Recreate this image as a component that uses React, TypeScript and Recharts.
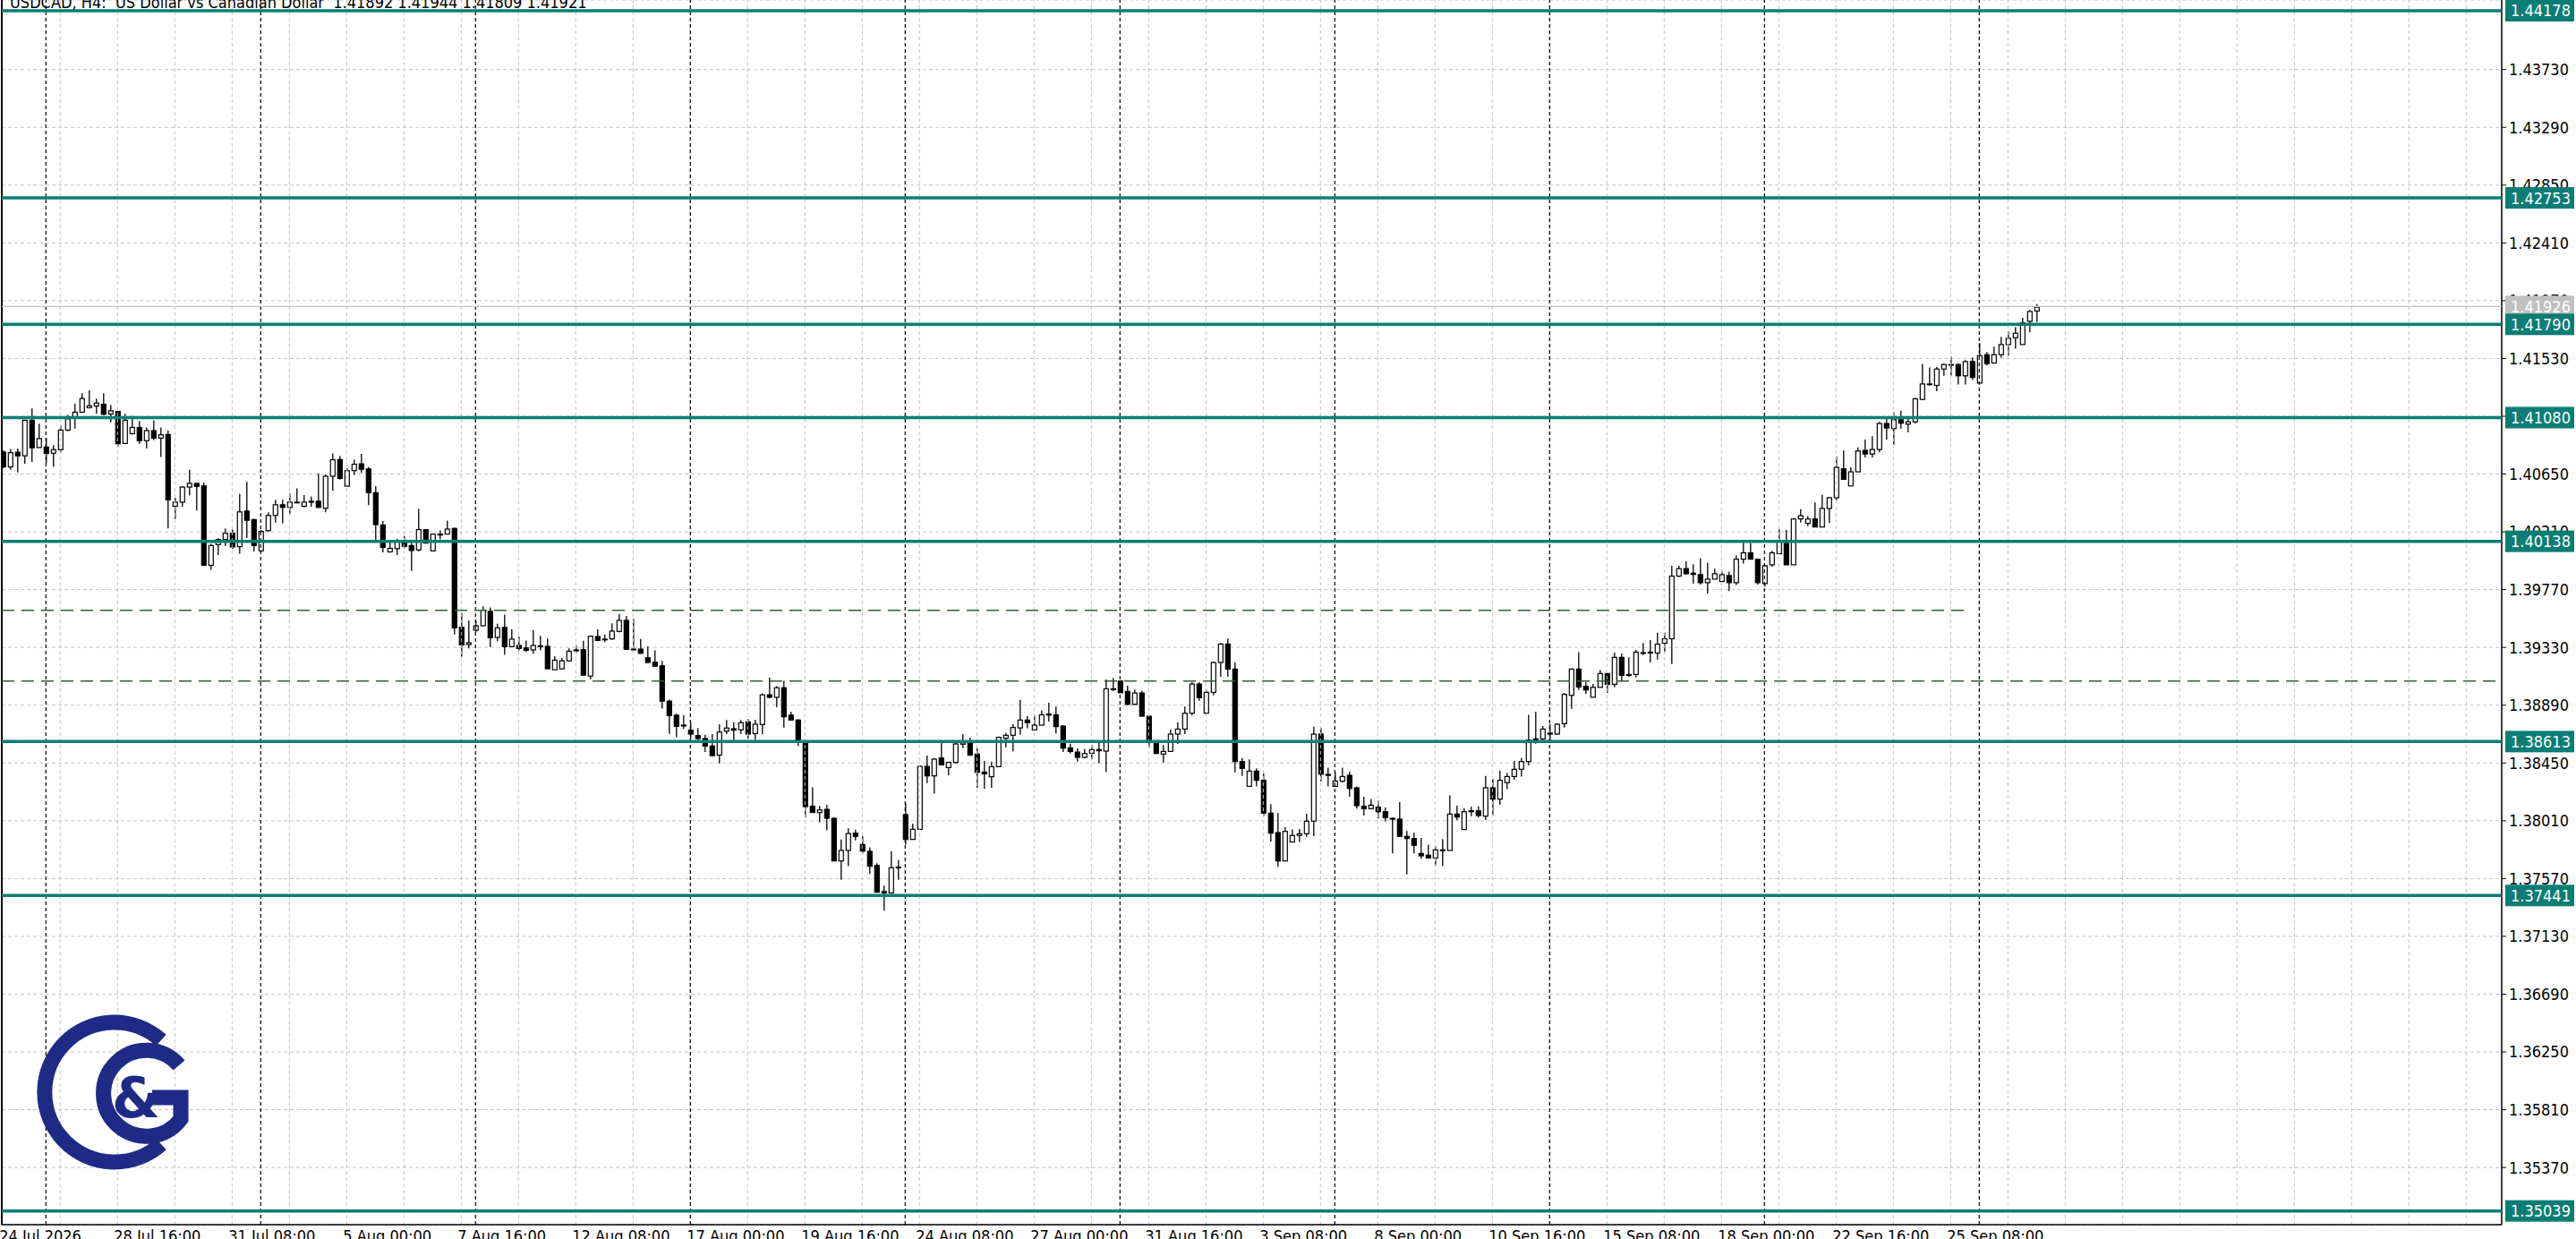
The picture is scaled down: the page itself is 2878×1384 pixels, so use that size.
import React from "react";
import { ComposedChart, Bar, XAxis, YAxis, CartesianGrid, ReferenceLine } from "recharts";

// H4 USDCAD candles (bar index = position from the left edge)
const opens = [
  1.40818, 1.40705, 1.40816, 1.40789, 1.4106, 1.40852, 1.40856, 1.40809, 1.40836, 1.40985,
  1.41082, 1.41121, 1.41155, 1.41168, 1.41182, 1.41107, 1.41127, 1.40883, 1.40958, 1.41005,
  1.40904, 1.40981, 1.40924, 1.40951, 1.40405, 1.40436, 1.40551, 1.40579, 1.4056, 1.39955,
  1.40113, 1.40152, 1.40199, 1.40097, 1.40368, 1.40303, 1.40066, 1.40219, 1.40335, 1.40416,
  1.40396, 1.40432, 1.40405, 1.40436, 1.40443, 1.40389, 1.40633, 1.40761, 1.40558, 1.40676,
  1.40728, 1.40689, 1.40508, 1.40262, 1.40057, 1.40082, 1.40129, 1.40106, 1.40072, 1.40227,
  1.40065, 1.40186, 1.40193, 1.40236, 1.39484, 1.39352, 1.39461, 1.39495, 1.39605, 1.39406,
  1.39482, 1.39336, 1.39345, 1.39326, 1.39311, 1.39336, 1.39338, 1.3916, 1.39167, 1.39228,
  1.39304, 1.39313, 1.39112, 1.39413, 1.39388, 1.39395, 1.39452, 1.39536, 1.39317, 1.39317,
  1.39251, 1.39217, 1.3919, 1.38921, 1.38814, 1.38738, 1.387, 1.38659, 1.38636, 1.38579,
  1.3851, 1.38693, 1.38711, 1.38702, 1.38763, 1.38674, 1.38743, 1.38969, 1.3895, 1.39023,
  1.38814, 1.38777, 1.38613, 1.38121, 1.38073, 1.38097, 1.38029, 1.37704, 1.37784, 1.37916,
  1.37829, 1.37777, 1.3767, 1.37471, 1.37461, 1.37652, 1.38057, 1.37868, 1.37945, 1.38424,
  1.38352, 1.38488, 1.38415, 1.38454, 1.38593, 1.38604, 1.38518, 1.38381, 1.38345, 1.38422,
  1.38638, 1.38661, 1.38717, 1.38777, 1.38702, 1.38738, 1.38822, 1.38817, 1.38731, 1.38565,
  1.38533, 1.38493, 1.38524, 1.38552, 1.3854, 1.39015, 1.39074, 1.38995, 1.38897, 1.38983,
  1.38806, 1.38613, 1.38518, 1.38538, 1.3867, 1.38708, 1.38829, 1.39051, 1.38829, 1.38988,
  1.39215, 1.39356, 1.39165, 1.38461, 1.38272, 1.38388, 1.38318, 1.38068, 1.3792, 1.37704,
  1.37848, 1.37898, 1.37911, 1.38007, 1.3867, 1.38363, 1.38272, 1.38311, 1.38356, 1.38261,
  1.3812, 1.38102, 1.38113, 1.38079, 1.38029, 1.38022, 1.37891, 1.37875, 1.37761, 1.37748,
  1.37727, 1.37788, 1.37784, 1.38061, 1.37943, 1.38086, 1.38086, 1.38045, 1.38261, 1.38175,
  1.383, 1.38347, 1.38402, 1.38461, 1.38633, 1.38633, 1.38677, 1.3867, 1.38749, 1.38965,
  1.39165, 1.39033, 1.38951, 1.39026, 1.39131, 1.39049, 1.39254, 1.39124, 1.39124, 1.3929,
  1.39294, 1.39287, 1.39362, 1.39396, 1.39873, 1.3993, 1.39895, 1.39884, 1.39823, 1.3985,
  1.39832, 1.39877, 1.39823, 1.40002, 1.4005, 1.40002, 1.39816, 1.39959, 1.40043, 1.40122,
  1.39959, 1.40308, 1.40274, 1.40308, 1.40247, 1.40388, 1.4047, 1.4069, 1.4056, 1.40667,
  1.4083, 1.40803, 1.40837, 1.41035, 1.40996, 1.41064, 1.4103, 1.41048, 1.41218, 1.41332,
  1.41325, 1.4145, 1.41484, 1.41484, 1.41398, 1.41507, 1.41343, 1.41559, 1.41495, 1.41559,
  1.41636, 1.41688, 1.41636, 1.41813, 1.41892,
];
const highs = [
  1.40829, 1.40841, 1.40845, 1.4106, 1.4115, 1.41033, 1.40924, 1.4087, 1.41021, 1.411,
  1.41186, 1.41265, 1.41288, 1.41225, 1.41265, 1.41177, 1.41127, 1.41109, 1.41094, 1.41055,
  1.41005, 1.4106, 1.41005, 1.40981, 1.40468, 1.40558, 1.40682, 1.40579, 1.40585, 1.40118,
  1.40161, 1.40237, 1.40228, 1.40499, 1.4059, 1.4031, 1.40224, 1.40359, 1.40454, 1.40454,
  1.40502, 1.40542, 1.4049, 1.40479, 1.40655, 1.40649, 1.40807, 1.40789, 1.40694, 1.40759,
  1.40804, 1.40705, 1.40558, 1.40292, 1.40129, 1.40158, 1.40179, 1.40129, 1.40386, 1.40231,
  1.40197, 1.4022, 1.40295, 1.40243, 1.39593, 1.39536, 1.39536, 1.39643, 1.39634, 1.39511,
  1.3958, 1.39468, 1.39411, 1.39383, 1.39463, 1.39418, 1.39397, 1.39263, 1.39251, 1.39322,
  1.39347, 1.39381, 1.39422, 1.39468, 1.39429, 1.39513, 1.39586, 1.3957, 1.39548, 1.39395,
  1.39338, 1.39308, 1.39228, 1.38932, 1.38825, 1.38814, 1.38756, 1.38716, 1.38665, 1.3867,
  1.38745, 1.38777, 1.38761, 1.38777, 1.38784, 1.38779, 1.3898, 1.39099, 1.39035, 1.39076,
  1.38841, 1.38784, 1.38613, 1.38264, 1.38123, 1.38132, 1.38034, 1.37868, 1.37952, 1.37943,
  1.37891, 1.37807, 1.37686, 1.37516, 1.37779, 1.37711, 1.38143, 1.37988, 1.38434, 1.38506,
  1.38488, 1.38606, 1.38461, 1.38613, 1.3867, 1.38643, 1.38563, 1.38465, 1.38461, 1.38652,
  1.38681, 1.38747, 1.38931, 1.38806, 1.38811, 1.38851, 1.38908, 1.38879, 1.38738, 1.38597,
  1.38561, 1.38556, 1.38586, 1.38602, 1.39085, 1.39097, 1.39079, 1.39038, 1.3901, 1.39001,
  1.38811, 1.38624, 1.38586, 1.38704, 1.38761, 1.38879, 1.39065, 1.39065, 1.39006, 1.39222,
  1.39363, 1.39397, 1.39215, 1.38488, 1.38477, 1.38409, 1.3837, 1.38136, 1.38068, 1.37961,
  1.37943, 1.37948, 1.38063, 1.38727, 1.3872, 1.38415, 1.38379, 1.38415, 1.38384, 1.38272,
  1.38193, 1.38175, 1.38163, 1.38113, 1.38034, 1.38152, 1.37932, 1.3792, 1.37879, 1.37829,
  1.37818, 1.3787, 1.38204, 1.38125, 1.38106, 1.38118, 1.3812, 1.38352, 1.38329, 1.38393,
  1.38375, 1.38465, 1.38488, 1.38817, 1.3884, 1.38731, 1.38745, 1.38754, 1.38983, 1.39169,
  1.39294, 1.39067, 1.39051, 1.39158, 1.39135, 1.3929, 1.39283, 1.39254, 1.3931, 1.39363,
  1.39385, 1.39442, 1.39442, 1.39952, 1.39952, 1.39986, 1.39964, 1.40009, 1.39975, 1.3993,
  1.39907, 1.39907, 1.40032, 1.40127, 1.40127, 1.40002, 1.39957, 1.40066, 1.40229, 1.40225,
  1.40315, 1.40383, 1.40331, 1.40433, 1.40492, 1.40474, 1.40785, 1.4083, 1.40701, 1.40853,
  1.40912, 1.40939, 1.41048, 1.41087, 1.41121, 1.41132, 1.41087, 1.4123, 1.41488, 1.41461,
  1.41466, 1.41491, 1.41545, 1.41493, 1.41518, 1.41538, 1.41647, 1.41579, 1.4162, 1.41695,
  1.41738, 1.41768, 1.4184, 1.41899, 1.41944,
];
const lows = [
  1.40694, 1.40682, 1.40662, 1.40728, 1.40743, 1.40852, 1.40734, 1.40705, 1.40816, 1.40976,
  1.40996, 1.41116, 1.4115, 1.41109, 1.411, 1.41044, 1.40859, 1.40881, 1.40951, 1.40881,
  1.40845, 1.40908, 1.4078, 1.40237, 1.4031, 1.404, 1.40486, 1.40373, 1.39955, 1.39921,
  1.40034, 1.40102, 1.40079, 1.40043, 1.40163, 1.40061, 1.40057, 1.40213, 1.4028, 1.40276,
  1.40344, 1.40429, 1.40396, 1.404, 1.40393, 1.40359, 1.40522, 1.40608, 1.40558, 1.40646,
  1.40658, 1.40414, 1.40145, 1.40054, 1.40057, 1.40034, 1.40084, 1.39912, 1.4006, 1.40124,
  1.4006, 1.40152, 1.40193, 1.39429, 1.3926, 1.39322, 1.39445, 1.39491, 1.39333, 1.39377,
  1.39274, 1.39331, 1.39308, 1.39295, 1.39281, 1.39308, 1.39167, 1.3916, 1.39165, 1.39224,
  1.3929, 1.39119, 1.39087, 1.39377, 1.3937, 1.39388, 1.39445, 1.39315, 1.39308, 1.39281,
  1.39215, 1.39187, 1.38864, 1.38672, 1.38647, 1.38709, 1.38636, 1.38624, 1.38533, 1.38499,
  1.38447, 1.3867, 1.38624, 1.3867, 1.38636, 1.38624, 1.3867, 1.38943, 1.38875, 1.3872,
  1.38777, 1.38579, 1.38036, 1.38073, 1.37998, 1.37938, 1.37704, 1.37561, 1.37664, 1.37861,
  1.37761, 1.37607, 1.37466, 1.37325, 1.37461, 1.37561, 1.37829, 1.37868, 1.37943, 1.38297,
  1.38216, 1.38431, 1.38356, 1.38447, 1.38563, 1.38509, 1.38261, 1.38254, 1.38261, 1.3842,
  1.38568, 1.38538, 1.38665, 1.38715, 1.38702, 1.38738, 1.38765, 1.38674, 1.38533, 1.38522,
  1.38461, 1.38484, 1.38477, 1.38449, 1.38381, 1.38997, 1.38983, 1.3889, 1.38892, 1.38806,
  1.38568, 1.38522, 1.38454, 1.38538, 1.38595, 1.3867, 1.38811, 1.38924, 1.38829, 1.38965,
  1.39106, 1.39106, 1.38379, 1.38352, 1.38272, 1.38272, 1.38045, 1.37852, 1.37659, 1.37704,
  1.37848, 1.37848, 1.37886, 1.37893, 1.38311, 1.38272, 1.38272, 1.38302, 1.38193, 1.38102,
  1.38052, 1.38097, 1.38027, 1.38004, 1.37761, 1.37891, 1.37602, 1.37761, 1.3772, 1.37727,
  1.3767, 1.37664, 1.37784, 1.38016, 1.37943, 1.38045, 1.38034, 1.38016, 1.38052, 1.38132,
  1.3825, 1.38322, 1.38347, 1.38431, 1.38597, 1.38624, 1.3862, 1.38665, 1.3872, 1.38863,
  1.39006, 1.38976, 1.38951, 1.39026, 1.38983, 1.39026, 1.39067, 1.39106, 1.39101, 1.39272,
  1.39215, 1.39237, 1.39294, 1.39203, 1.39866, 1.39884, 1.39816, 1.39809, 1.39741, 1.3985,
  1.39827, 1.39759, 1.39805, 1.39968, 1.40002, 1.39809, 1.39793, 1.39945, 1.40043, 1.39959,
  1.39959, 1.40281, 1.40254, 1.40247, 1.40247, 1.40277, 1.40451, 1.4061, 1.4056, 1.40667,
  1.40776, 1.40776, 1.40815, 1.40912, 1.40871, 1.40996, 1.40967, 1.41035, 1.41212, 1.41325,
  1.4128, 1.41398, 1.41398, 1.41332, 1.41332, 1.41366, 1.41343, 1.41479, 1.41495, 1.41536,
  1.41552, 1.41604, 1.41636, 1.41729, 1.41809,
];
const closes = [
  1.40705, 1.40813, 1.40789, 1.4106, 1.4085, 1.4092, 1.40807, 1.40836, 1.40985, 1.41071,
  1.41121, 1.41225, 1.4117, 1.41191, 1.41105, 1.41132, 1.40881, 1.4106, 1.41005, 1.40904,
  1.40981, 1.40924, 1.40949, 1.40454, 1.40436, 1.40551, 1.40579, 1.40556, 1.39955, 1.40106,
  1.40152, 1.40199, 1.40095, 1.40362, 1.40298, 1.40106, 1.40213, 1.40335, 1.40416, 1.40396,
  1.40436, 1.40436, 1.40436, 1.40443, 1.40396, 1.40633, 1.40759, 1.40617, 1.40676, 1.40725,
  1.40687, 1.40508, 1.40265, 1.40091, 1.40084, 1.40136, 1.401, 1.40068, 1.40227, 1.40124,
  1.40193, 1.40193, 1.40231, 1.39479, 1.39349, 1.39365, 1.39495, 1.39614, 1.39404, 1.39479,
  1.39336, 1.39393, 1.39322, 1.39308, 1.39345, 1.39342, 1.39167, 1.39233, 1.39228, 1.39301,
  1.39311, 1.39119, 1.39415, 1.39383, 1.39393, 1.39454, 1.39536, 1.39315, 1.39315, 1.39285,
  1.39215, 1.39187, 1.38921, 1.38811, 1.38729, 1.38732, 1.3867, 1.38636, 1.38579, 1.38506,
  1.38686, 1.38716, 1.387, 1.38757, 1.3867, 1.38745, 1.38969, 1.3895, 1.39023, 1.38802,
  1.38777, 1.38613, 1.38118, 1.38073, 1.38093, 1.38029, 1.37704, 1.37784, 1.37913, 1.37891,
  1.37779, 1.37664, 1.37466, 1.37461, 1.37652, 1.37657, 1.37868, 1.37945, 1.38424, 1.38352,
  1.38479, 1.38436, 1.38454, 1.38595, 1.38604, 1.38509, 1.38379, 1.38368, 1.38422, 1.38645,
  1.38661, 1.3872, 1.38777, 1.38756, 1.38738, 1.38817, 1.38815, 1.38727, 1.38563, 1.38538,
  1.38493, 1.38522, 1.38552, 1.38543, 1.39015, 1.3901, 1.38985, 1.38897, 1.38983, 1.38806,
  1.38613, 1.38522, 1.38538, 1.3867, 1.38708, 1.38829, 1.39051, 1.38947, 1.38988, 1.39215,
  1.39356, 1.39165, 1.38461, 1.38409, 1.38388, 1.38318, 1.38068, 1.37916, 1.37704, 1.37929,
  1.37898, 1.37911, 1.38007, 1.3867, 1.38365, 1.38356, 1.38313, 1.38347, 1.38256, 1.38125,
  1.38102, 1.38129, 1.38079, 1.38034, 1.38022, 1.37891, 1.37875, 1.37823, 1.37743, 1.37727,
  1.37788, 1.37784, 1.38061, 1.38038, 1.38079, 1.38079, 1.3805, 1.38261, 1.38175, 1.38318,
  1.38347, 1.38402, 1.38461, 1.38624, 1.38624, 1.38708, 1.3867, 1.38745, 1.38972, 1.39165,
  1.39029, 1.39006, 1.39026, 1.39131, 1.39049, 1.39254, 1.39117, 1.39117, 1.39294, 1.39285,
  1.39287, 1.39355, 1.39396, 1.39873, 1.3993, 1.39891, 1.39886, 1.39823, 1.3985, 1.39891,
  1.39884, 1.39823, 1.40002, 1.4005, 1.40002, 1.39823, 1.39952, 1.4005, 1.40134, 1.39959,
  1.40308, 1.40333, 1.40308, 1.40247, 1.40388, 1.4047, 1.40701, 1.4061, 1.40667, 1.40826,
  1.40803, 1.40837, 1.41035, 1.41001, 1.41064, 1.41037, 1.41048, 1.41223, 1.41336, 1.41336,
  1.4145, 1.41484, 1.41482, 1.41398, 1.41507, 1.41386, 1.41552, 1.41491, 1.41559, 1.41636,
  1.41684, 1.41722, 1.41802, 1.41888, 1.41921,
];

// time axis: a label every 16 bars
const timeLabelBars = [0, 16, 32, 48, 64, 80, 96, 112, 128, 144, 160, 176, 192, 208, 224, 240, 256, 272];
const timeLabels = [
  "24 Jul 2026", "28 Jul 16:00", "31 Jul 08:00", "5 Aug 00:00", "7 Aug 16:00", "12 Aug 08:00",
  "17 Aug 00:00", "19 Aug 16:00", "24 Aug 08:00", "27 Aug 00:00", "31 Aug 16:00", "3 Sep 08:00",
  "8 Sep 00:00", "10 Sep 16:00", "15 Sep 08:00", "18 Sep 00:00", "22 Sep 16:00", "25 Sep 08:00",
];
const gridBars = Array.from({ length: 43 }, (_, k) => 8 * (k + 1));
const weekStartBars = [6, 36, 66, 96, 126, 156, 186, 216, 246, 276];

const priceTicks = [
  1.3537, 1.3581, 1.3625, 1.3669, 1.3713, 1.3757, 1.3801, 1.3845, 1.3889, 1.3933,
  1.3977, 1.4021, 1.4065, 1.4109, 1.4153, 1.4197, 1.4241, 1.4285, 1.4329, 1.4373,
];
const levels = [1.44178, 1.42753, 1.4179, 1.4108, 1.40138, 1.38613, 1.37441, 1.35039];
const dashedLevels = [1.39612, 1.39074];
const dashedEnds = [274.8, 348.96];
const currentPrice = 1.41926;

const X_DOMAIN = [-0.16, 348.96];
const Y_DOMAIN = [1.349345, 1.442597];
const TEAL = "#0b7d76";
const FONT = "'DejaVu Sans Condensed', 'DejaVu Sans', sans-serif";
const W = 2878;
const H = 1384;

const candles = opens.map((o, i) => ({ i, o, h: highs[i], l: lows[i], c: closes[i] }));

const Candle = (props: any) => {
  const { x, y, width, height, payload } = props;
  if (x == null || y == null) return null;
  const { o, h, l, c } = payload;
  const top = Math.min(y, y + height);
  const span = Math.abs(height);
  const py = (p: number) => (h === l ? top : top + ((h - p) / (h - l)) * span);
  const cx = x + width / 2;
  const bTop = py(Math.max(o, c));
  const bBot = py(Math.min(o, c));
  const bw = 5;
  return (
    <g>
      <line x1={cx} x2={cx} y1={top} y2={top + span} stroke="#000" strokeWidth={1.3} />
      <rect
        x={cx - bw / 2}
        y={bTop}
        width={bw}
        height={Math.max(bBot - bTop, 0.8)}
        fill={c >= o ? "#fff" : "#000"}
        stroke="#000"
        strokeWidth={1.2}
      />
    </g>
  );
};

const PriceTag = ({ viewBox, value, fill }: any) => {
  if (!viewBox) return null;
  const x = viewBox.x + viewBox.width + 4;
  const y = viewBox.y;
  return (
    <g>
      <rect x={x} y={y - 12} width={77} height={24} fill={fill} />
      <text x={x + 6} y={y + 6.5} fill="#fff" fontSize={18} fontFamily={FONT}>
        {value.toFixed(5)}
      </text>
    </g>
  );
};

const TimeTick = ({ x, y, payload }: any) => {
  const idx = timeLabelBars.indexOf(payload.value);
  return (
    <text x={x - 4} y={y + 19} fontSize={18} fontFamily={FONT} fill="#000" textAnchor="start">
      {timeLabels[idx]}
    </text>
  );
};

const Logo = () => (
  <svg width={230} height={200} style={{ position: "absolute", left: 30, top: 1120 }}>
    <g fill="none" stroke="#1e2b86" strokeWidth={17}>
      <path d="M 150 42 A 78 78 0 1 0 150 158" />
      <path d="M 170 70 A 48 48 0 1 0 172 130 L 172 106 L 140 106" />
    </g>
    <text x={95} y={128} fontSize={62} fontWeight="bold" fontFamily="'DejaVu Sans', sans-serif" fill="#1e2b86">
      &amp;
    </text>
  </svg>
);

export default function App() {
  return (
    <div style={{ position: "absolute", left: 0, top: 0, width: W, height: H, overflow: "hidden", background: "#fff" }}>
      {/* price chart: grid, axes, candles */}
      <ComposedChart width={W} height={H} data={candles} margin={{ top: 0, right: 0, bottom: 0, left: 2 }}>
        <CartesianGrid stroke="#c4c4c4" strokeDasharray="4 3" vertical={false} />
        {gridBars.map((b) => (
          <ReferenceLine key={"g" + b} x={b} stroke="#c4c4c4" strokeDasharray="4 3" strokeWidth={1} />
        ))}
        {weekStartBars.map((b) => (
          <ReferenceLine key={"w" + b} x={b} stroke="#000" strokeDasharray="4 3" strokeWidth={1.2} />
        ))}
        <XAxis
          type="number"
          dataKey="i"
          domain={X_DOMAIN}
          allowDataOverflow
          ticks={timeLabelBars}
          interval={0}
          height={16}
          tickSize={0}
          tickMargin={0}
          tickLine={false}
          axisLine={{ stroke: "#000", strokeWidth: 1.5 }}
          tick={<TimeTick />}
        />
        <YAxis
          orientation="right"
          type="number"
          domain={Y_DOMAIN}
          allowDataOverflow
          ticks={priceTicks}
          interval={0}
          width={83}
          tickSize={5}
          tickMargin={3}
          axisLine={{ stroke: "#000", strokeWidth: 1.5 }}
          tickLine={{ stroke: "#000" }}
          tick={{ fill: "#000", fontSize: 18, fontFamily: FONT }}
          tickFormatter={(v: number) => v.toFixed(5)}
        />
        <ReferenceLine x={X_DOMAIN[0]} stroke="#000" strokeWidth={2} />
        <Bar dataKey={(d: any) => [d.l, d.h]} barSize={5} shape={(p: any) => <Candle {...p} />} isAnimationActive={false} />
      </ComposedChart>

      {/* objects layer on top (levels and their price tags), same scales */}
      <div style={{ position: "absolute", left: 0, top: 0, pointerEvents: "none" }}>
        <ComposedChart width={W} height={H} data={candles} margin={{ top: 0, right: 83, bottom: 16, left: 2 }}>
          <XAxis type="number" dataKey="i" domain={X_DOMAIN} allowDataOverflow hide />
          <YAxis type="number" domain={Y_DOMAIN} allowDataOverflow hide />
          {dashedLevels.map((p, k) => (
            <ReferenceLine
              key={"d" + k}
              segment={[{ x: X_DOMAIN[0], y: p }, { x: dashedEnds[k], y: p }]}
              stroke="#2f5e37"
              strokeWidth={1.6}
              strokeDasharray="14 8"
            />
          ))}
          <ReferenceLine
            y={currentPrice}
            stroke="#c0c0c0"
            strokeWidth={1.2}
            label={(p: any) => <PriceTag viewBox={p.viewBox} value={currentPrice} fill="#c0c0c0" />}
          />
          {levels.map((p) => (
            <ReferenceLine
              key={"l" + p}
              y={p}
              stroke={TEAL}
              strokeWidth={3.5}
              label={(lp: any) => <PriceTag viewBox={lp.viewBox} value={p} fill={TEAL} />}
            />
          ))}
        </ComposedChart>
      </div>

      <svg width={900} height={30} style={{ position: "absolute", left: 0, top: 0 }}>
        <text x={11} y={9} fontSize={18} fontFamily={FONT} fill="#000" xmlSpace="preserve">
          USDCAD, H4:  US Dollar vs Canadian Dollar  1.41892 1.41944 1.41809 1.41921
        </text>
      </svg>
      <Logo />
    </div>
  );
}
